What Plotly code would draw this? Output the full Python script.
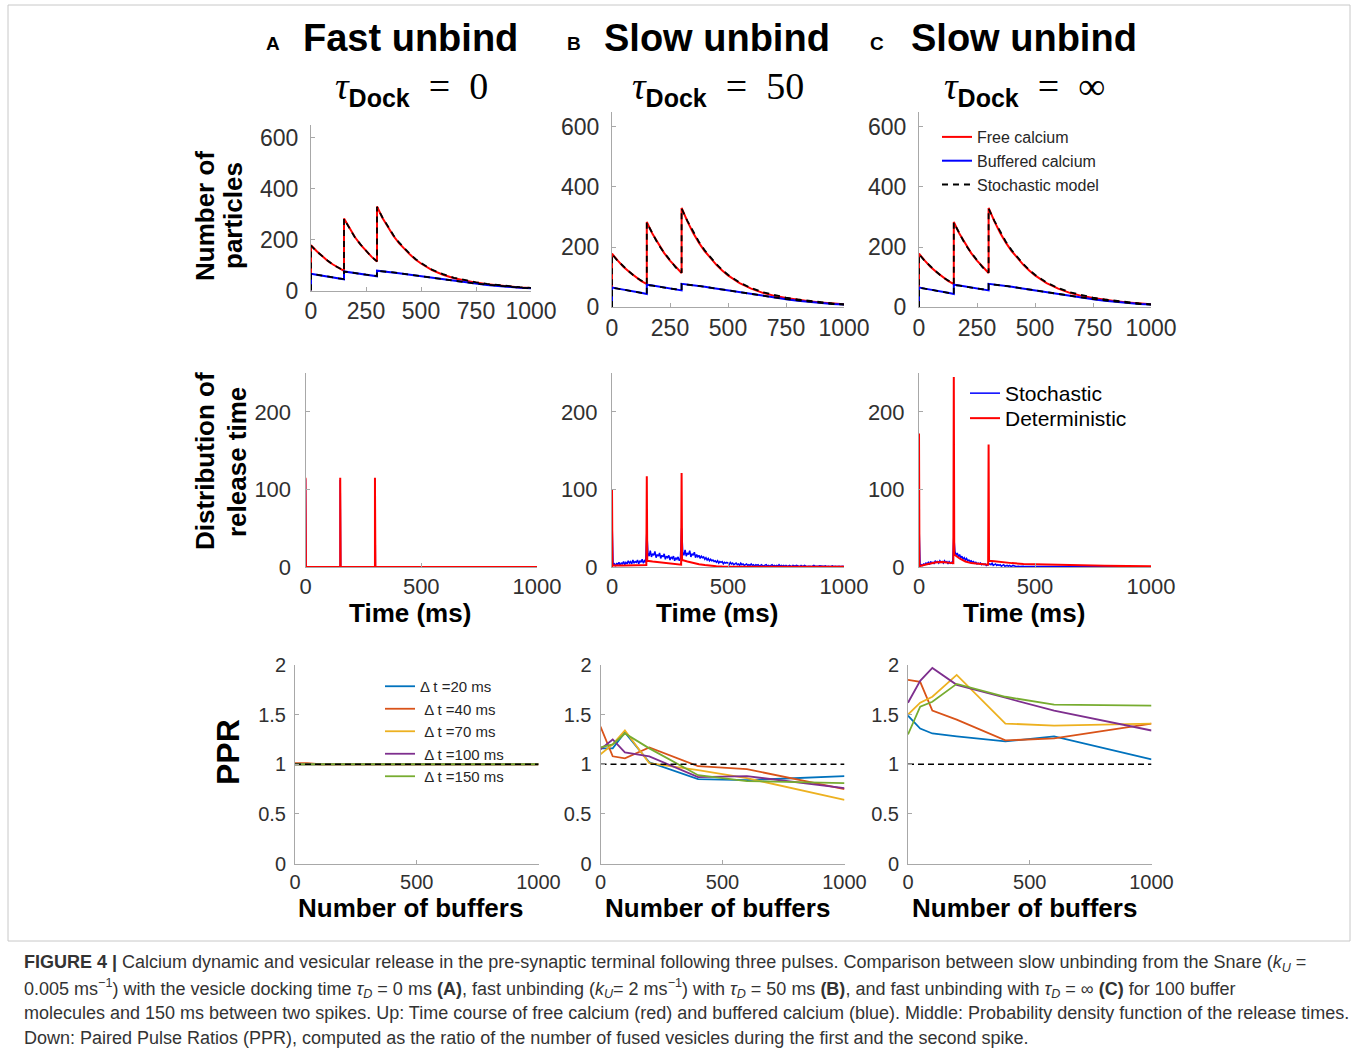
import plotly.graph_objects as go

W, H = 1358, 1058

# ---------------- Row 1: calcium time course (ms, number of particles) ----------------
ca_t = [0, 0, 25, 50, 75, 100, 125, 150, 150, 175, 200, 225, 250, 275, 300, 300, 325, 350,
        375, 400, 425, 450, 475, 500, 550, 600, 650, 700, 750, 800, 850, 900, 950, 1000]
free_ca = [0, 178, 155, 134, 117, 102, 88, 77, 283, 243, 209, 180, 155, 133, 114, 330, 285, 247,
           214, 186, 162, 141, 122, 106, 80, 62, 48, 38, 31, 25, 20, 16, 12, 10]
buffered_ca = [0, 66, 62, 59, 55, 51, 48, 44, 75, 72, 69, 66, 63, 60, 56, 78, 76, 74,
               71, 68, 65, 62, 59, 55, 49, 43, 37, 32, 27, 22, 18, 14, 11, 9]
stoch_free_ca = [0, 176, 154, 135, 118, 101, 89, 78, 281, 244, 208, 181, 156, 132, 115, 328, 287, 250,
                 217, 189, 165, 143, 124, 108, 82, 64, 50, 40, 32, 26, 21, 16, 13, 10]
stoch_buffered_ca = [0, 65, 62, 58, 55, 52, 48, 45, 74, 72, 68, 66, 62, 60, 57, 77, 76, 73,
                     71, 68, 65, 61, 58, 55, 49, 43, 38, 32, 27, 23, 18, 15, 11, 9]

# ---------------- Row 2: distribution of release time ----------------
det_a_t = [0, 0, 2, 150, 150, 152, 300, 300, 302, 1000]
det_a_v = [0, 115, 0, 0, 115, 0, 0, 115, 0, 0]
stoch_a_t = [0, 0, 2, 150, 150, 152, 300, 300, 302, 1000]
stoch_a_v = [0, 113, 0, 0, 112, 0, 0, 114, 0, 0]

det_b_t = [0, 0, 2, 50, 100, 148, 150, 152, 175, 200, 225, 250, 275, 298,
           300, 302, 325, 350, 375, 400, 425, 450, 475, 500, 1000]
det_b_v = [0, 100, 2, 2, 2.5, 2.5, 117, 8, 7, 6, 5, 4, 3.5, 3,
           121, 9, 7, 5, 3.5, 2.5, 1.5, 1, 0.5, 0.3, 0.2]
# stochastic histogram, 5 ms bins starting at 0 ms
stoch_b_v = [
    60,
    2, 4, 1, 5, 3, 6, 2, 5, 4, 7, 3, 6, 4, 8, 5, 7, 4, 9, 5, 7, 6, 9, 4, 8, 6, 10, 5, 8, 6,
    45,
    18, 14, 21, 13, 17, 15, 20, 12, 16, 14, 18, 11, 15, 13, 17, 10, 14, 12, 15, 9, 13, 11, 14, 8, 12, 10, 13, 8, 11,
    50,
    19, 15, 22, 14, 18, 16, 21, 13, 17, 15, 19, 12, 16, 13, 15, 11, 14, 12, 13, 10, 12, 9, 11, 8, 10, 8, 9, 7, 8, 6,
    8, 5, 7, 6, 7, 4, 6, 5, 6,
    5, 3, 6, 4, 5, 3, 4, 5, 3, 4, 2, 5, 3, 4, 2, 3, 4, 2, 3, 2, 4, 2, 3, 1, 3, 2, 3, 1, 2, 3, 1, 2, 2, 3, 1, 2, 1, 2, 3, 1,
    2, 1, 2, 1, 3, 1, 2, 1, 2, 0.5, 2, 1, 1, 2, 1, 0.5, 2, 1, 1, 2, 1, 1, 0.5, 2, 1, 1, 2, 1, 0.5, 1,
    1.5, 1, 0.5, 1, 2, 1, 1, 0.5, 1, 1.5, 1, 0.5, 1, 1, 1.5, 0.5, 1, 1, 0.5, 1, 1.5, 0.5, 1, 1, 0.5, 1, 1, 0.5, 1, 1, 0.5,
]

det_c_t = [0, 0, 2, 25, 50, 75, 100, 125, 148, 150, 152, 175, 200, 225, 250, 275, 298,
           300, 302, 325, 350, 400, 450, 500, 600, 700, 800, 900, 1000]
det_c_v = [0, 172, 1, 3, 5, 6, 6.5, 6, 5, 245, 16, 11, 7, 5, 4, 3, 3,
           158, 8, 7.5, 6.5, 5, 4, 3.5, 2.5, 2, 1.5, 1.2, 1]
stoch_c_v = [
    55,
    1, 3, 2, 4, 3, 5, 4, 6, 3, 7, 5, 6, 4, 8, 6, 7, 5, 8, 6, 7, 5, 8, 6, 7, 4, 7, 5, 6, 4,
    40,
    20, 15, 18, 13, 16, 12, 14, 10, 12, 9, 11, 8, 9, 7, 8, 6, 7, 5, 6, 4, 5, 4, 5, 3, 4, 3, 4, 2, 3,
    4,
    4, 3, 5, 2, 3, 4, 2, 3, 2, 3, 1, 2, 3, 1, 2, 2, 1, 2, 1, 1, 2, 1, 1, 0.5, 1, 1, 0.5, 1, 0.5, 1,
    0.5, 0.5, 1, 0.5, 0.5, 0.5, 1, 0.5, 0.5,
]
stoch_c_tail_t = [500, 1000]
stoch_c_tail_v = [0.3, 0.2]
bin_ms = 5

# ---------------- Row 3: paired pulse ratio ----------------
n_buffers = [0, 50, 100, 200, 400, 600, 1000]
dt_labels = ["Δ t =20 ms", "\u00a0Δ t =40 ms", "\u00a0Δ t =70 ms", "\u00a0Δ t =100 ms", "\u00a0Δ t =150 ms"]
ppr_a = [
    [1.0, 1.0, 1.0, 1.0, 1.0, 1.0, 1.0],
    [1.012, 1.01, 1.0, 1.0, 1.0, 1.0, 1.0],
    [1.0, 1.0, 1.0, 1.0, 1.0, 1.0, 1.0],
    [1.0, 1.0, 1.0, 1.0, 1.0, 1.0, 1.0],
    [1.0, 1.0, 1.0, 1.0, 1.0, 1.0, 1.0],
]
ppr_b = [
    [1.16, 1.16, 1.32, 1.02, 0.85, 0.84, 0.88],
    [1.38, 1.08, 1.06, 1.17, 0.98, 0.95, 0.75],
    [1.10, 1.20, 1.34, 1.01, 0.94, 0.86, 0.64],
    [1.15, 1.25, 1.12, 1.08, 0.87, 0.88, 0.76],
    [1.17, 1.20, 1.31, 1.16, 0.89, 0.83, 0.81],
]
ppr_c = [
    [1.49, 1.36, 1.31, 1.28, 1.23, 1.28, 1.05],
    [1.85, 1.83, 1.54, 1.45, 1.24, 1.26, 1.41],
    [1.50, 1.62, 1.68, 1.90, 1.41, 1.39, 1.41],
    [1.62, 1.84, 1.97, 1.80, 1.67, 1.54, 1.34],
    [1.30, 1.58, 1.63, 1.81, 1.68, 1.60, 1.59],
]
ppr_ref_x = [0, 1000]
ppr_ref_y = [1, 1]

panel_letters = ["A", "B", "C"]
panel_titles = ["Fast unbind", "Slow unbind", "Slow unbind"]
tau_values = ["0", "50", "∞"]
x_ticks_row1 = [0, 250, 500, 750, 1000]
y_ticks_row1 = [0, 200, 400, 600]
x_ticks_rows23 = [0, 500, 1000]
y_ticks_row2 = [0, 100, 200]
y_ticks_row3 = [0, 0.5, 1, 1.5, 2]

# ---------------- styling ----------------
RED, BLUE, BLACK = "#FF0000", "#0000FF", "#000000"
PPR_COLORS = ["#0072BD", "#D95319", "#EDB120", "#7E2F8E", "#77AC30"]
AXIS_GRAY = "#A8A8A8"
TICK_TXT = "#303030"
SANS = "Liberation Sans"

# panel boxes in pixels: (left, right, top, bottom)
boxes = {
    (0, 0): (311, 531, 125, 290.5),
    (0, 1): (612, 844, 111.5, 307.3),
    (0, 2): (919, 1151, 111.5, 307.3),
    (1, 0): (305.5, 537, 373, 567),
    (1, 1): (612, 844, 373, 567),
    (1, 2): (919, 1151, 373, 567),
    (2, 0): (295, 538.5, 665, 863.5),
    (2, 1): (600.5, 844.5, 665, 863.5),
    (2, 2): (908, 1151.5, 665, 863.5),
}
row_cfg = [
    dict(yr=[0, 650], xt=x_ticks_row1, yt=y_ticks_row1, fs=23, ystand=7),
    dict(yr=[0, 250], xt=x_ticks_rows23, yt=y_ticks_row2, fs=22, ystand=9),
    dict(yr=[0, 2], xt=x_ticks_rows23, yt=y_ticks_row3, fs=20, ystand=4),
]

fig = go.Figure()
layout = dict(template="none", width=W, height=H, margin=dict(l=0, r=0, t=0, b=0, pad=0), autosize=False,
              paper_bgcolor="white", plot_bgcolor="white", font=dict(family=SANS, color=TICK_TXT))


def ax_id(r, c):
    return r * 3 + c + 1


for (r, c), (x0, x1, yt_, yb_) in boxes.items():
    i = ax_id(r, c)
    cfg = row_cfg[r]
    suffix = "" if i == 1 else str(i)
    common = dict(showline=True, linecolor=AXIS_GRAY, linewidth=1, showgrid=False, zeroline=False,
                  ticks="inside", ticklen=4, tickcolor=AXIS_GRAY, tickwidth=1, automargin=False,
                  tickfont=dict(family=SANS, size=cfg["fs"], color=TICK_TXT))
    layout["xaxis" + suffix] = dict(domain=[x0 / W, x1 / W], range=[0, 1000], anchor="y" + suffix,
                                    tickvals=cfg["xt"], ticklabelstandoff=0, **common)
    layout["yaxis" + suffix] = dict(domain=[1 - yb_ / H, 1 - yt_ / H], range=cfg["yr"], anchor="x" + suffix,
                                    tickvals=cfg["yt"], ticklabelstandoff=cfg["ystand"], **common)


def axes(r, c):
    i = ax_id(r, c)
    s = "" if i == 1 else str(i)
    return dict(xaxis="x" + s, yaxis="y" + s)


# Row 1
for c in range(3):
    leg = c == 2
    fig.add_trace(go.Scatter(x=ca_t, y=free_ca, mode="lines", line=dict(color=RED, width=2),
                             name="Free calcium", showlegend=leg, legend="legend", **axes(0, c)))
    fig.add_trace(go.Scatter(x=ca_t, y=buffered_ca, mode="lines", line=dict(color=BLUE, width=2),
                             name="Buffered calcium", showlegend=leg, legend="legend", **axes(0, c)))
    fig.add_trace(go.Scatter(x=ca_t, y=stoch_free_ca, mode="lines",
                             line=dict(color=BLACK, width=1.8, dash="6px,5px"),
                             name="Stochastic model", showlegend=leg, legend="legend", **axes(0, c)))
    fig.add_trace(go.Scatter(x=ca_t, y=stoch_buffered_ca, mode="lines",
                             line=dict(color=BLACK, width=1.8, dash="6px,5px"),
                             name="Stochastic model", showlegend=False, **axes(0, c)))

# Row 2
stoch_b_t = [bin_ms * k for k in range(len(stoch_b_v))]
stoch_c_t = [bin_ms * k for k in range(len(stoch_c_v))] + stoch_c_tail_t
stoch_c_all = stoch_c_v + stoch_c_tail_v
row2 = [(stoch_a_t, stoch_a_v, det_a_t, det_a_v),
        (stoch_b_t, stoch_b_v, det_b_t, det_b_v),
        (stoch_c_t, stoch_c_all, det_c_t, det_c_v)]
for c, (st, sv, dt, dv) in enumerate(row2):
    leg = c == 2
    fig.add_trace(go.Scatter(x=st, y=sv, mode="lines", line=dict(color=BLUE, width=1.5),
                             name="Stochastic", showlegend=leg, legend="legend2", **axes(1, c)))
    fig.add_trace(go.Scatter(x=dt, y=dv, mode="lines", line=dict(color=RED, width=2),
                             name="Deterministic", showlegend=leg, legend="legend3", **axes(1, c)))

# Row 3
for c, ppr in enumerate([ppr_a, ppr_b, ppr_c]):
    for k, vals in enumerate(ppr):
        fig.add_trace(go.Scatter(x=n_buffers, y=vals, mode="lines",
                                 line=dict(color=PPR_COLORS[k], width=1.8),
                                 name=dt_labels[k], showlegend=(c == 0), legend="legend4", **axes(2, c)))
    fig.add_trace(go.Scatter(x=ppr_ref_x, y=ppr_ref_y, mode="lines",
                             line=dict(color=BLACK, width=1.5, dash="6px,4px"),
                             showlegend=False, **axes(2, c)))

# legends
clear = "rgba(0,0,0,0)"
layout["showlegend"] = True
layout["legend"] = dict(x=937 / W, y=1 - 120 / H, xanchor="left", yanchor="top", bgcolor=clear,
                        font=dict(family=SANS, size=16, color="#262626"))
layout["legend2"] = dict(x=965 / W, y=1 - 373 / H, xanchor="left", yanchor="top", bgcolor=clear,
                         font=dict(family=SANS, size=21, color="#000000"))
layout["legend3"] = dict(x=965 / W, y=1 - 398 / H, xanchor="left", yanchor="top", bgcolor=clear,
                         font=dict(family=SANS, size=21, color="#000000"))
layout["legend4"] = dict(x=380 / W, y=1 - 670 / H, xanchor="left", yanchor="top", bgcolor=clear,
                         font=dict(family=SANS, size=15, color="#262626"))

annotations = []


def ann(text, x, y, size, bold=False, family=SANS, color="#000000", angle=0, xanchor="center",
        yanchor="middle"):
    if bold:
        text = "<b>" + text + "</b>"
    annotations.append(dict(text=text, x=x / W, y=1 - y / H, xref="paper", yref="paper",
                            showarrow=False, xanchor=xanchor, yanchor=yanchor, textangle=angle,
                            font=dict(family=family, size=size, color=color)))


letter_x = [273, 574, 877]
title_cx = [410, 717, 1024]
tau_cx = [412, 718, 1024]
for c in range(3):
    ann(panel_letters[c], letter_x[c], 44, 19, bold=True)
    ann(panel_titles[c], title_cx[c], 38, 38, bold=True)
    tau_txt = ('<i>τ</i><sub><span style="font-family:Liberation Sans;font-size:25px"><b>Dock</b></span></sub>'
               '\u00a0\u00a0=\u00a0\u00a0' + tau_values[c])
    ann(tau_txt, tau_cx[c], 88, 38, family="Liberation Serif")

xt_cx = [410, 717, 1024]
for c in range(3):
    ann("Time (ms)", xt_cx[c], 613, 26, bold=True)
    ann("Number of buffers", xt_cx[c], 908, 26, bold=True)

ann("Number of", 205, 216, 26, bold=True, angle=-90)
ann("particles", 233, 216, 26, bold=True, angle=-90)
ann("Distribution of", 205, 461, 26, bold=True, angle=-90)
ann("release time", 237, 462, 26, bold=True, angle=-90)
ann("PPR", 228, 752, 32, bold=True, angle=-90)

cap_lines = [
    "<b>FIGURE 4 |</b> Calcium dynamic and vesicular release in the pre-synaptic terminal following three pulses. "
    "Comparison between slow unbinding from the Snare (<i>k<sub>U</sub></i> =",
    "0.005 ms<sup>−1</sup>) with the vesicle docking time <i>τ<sub>D</sub></i> = 0 ms <b>(A)</b>, fast unbinding "
    "(<i>k<sub>U</sub></i>= 2 ms<sup>−1</sup>) with <i>τ<sub>D</sub></i> = 50 ms <b>(B)</b>, and fast unbinding with "
    "<i>τ<sub>D</sub></i> = ∞ <b>(C)</b> for 100 buffer",
    "molecules and 150 ms between two spikes. Up: Time course of free calcium (red) and buffered calcium (blue). "
    "Middle: Probability density function of the release times.",
    "Down: Paired Pulse Ratios (PPR), computed as the ratio of the number of fused vesicles during the first and "
    "the second spike.",
]
cap_y = [963, 988, 1013, 1038]
for t, y in zip(cap_lines, cap_y):
    ann(t, 22, y, 18, color="#333333", xanchor="left")

layout["annotations"] = annotations
layout["shapes"] = [dict(type="rect", xref="paper", yref="paper", x0=8 / W, x1=1350 / W,
                         y0=1 - 941 / H, y1=1 - 5 / H, line=dict(color="#C8C8C8", width=1),
                         fillcolor="rgba(0,0,0,0)", layer="below")]

fig.update_layout(**layout)
fig.write_html("out.html", config={"displayModeBar": False},
               post_script="document.body.style.margin='0';document.body.style.overflow='hidden';")
